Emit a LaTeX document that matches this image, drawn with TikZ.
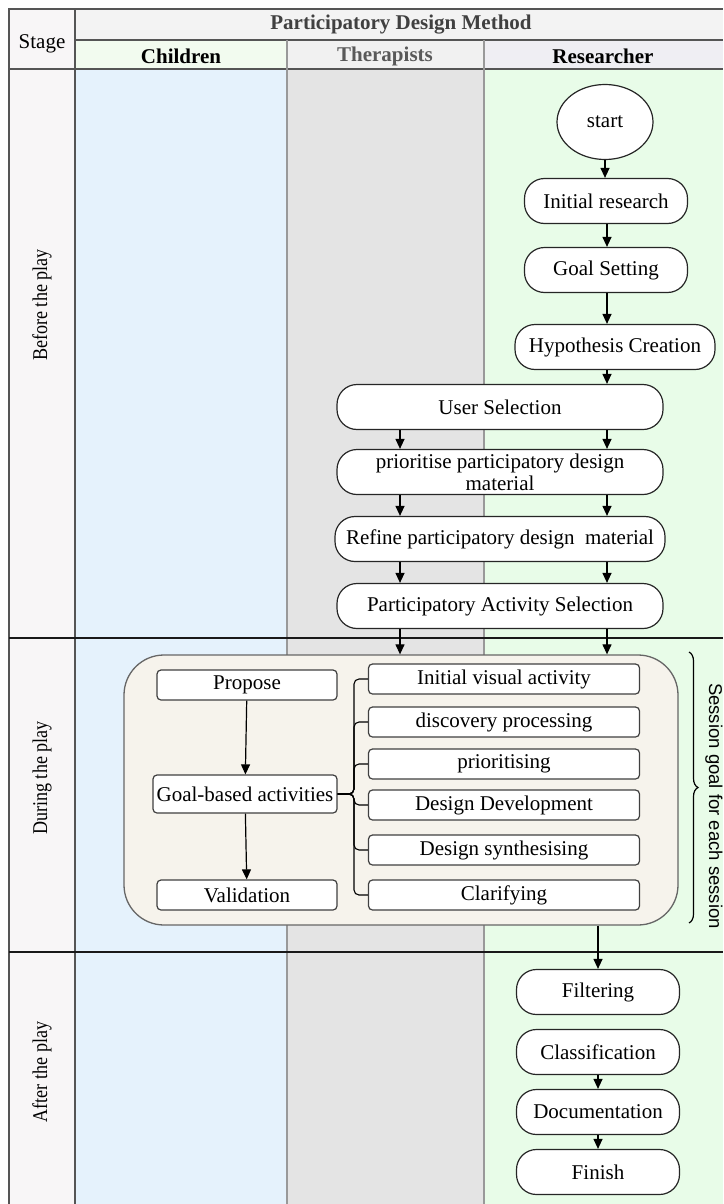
\documentclass[tikz,border=0pt]{standalone}
\usepackage{fontspec}
\setmainfont{Liberation Serif}
\newfontfamily\rowfont[FakeStretch=0.86]{Liberation Serif}
\newfontfamily\notefont{Liberation Sans}
\usetikzlibrary{arrows.meta,shapes.geometric,decorations.pathreplacing}

\definecolor{stagebg}{HTML}{F8F6F7}
\definecolor{hdrbg}{HTML}{F3F3F3}
\definecolor{childhdr}{HTML}{F2FBEF}
\definecolor{therhdr}{HTML}{F1F1F1}
\definecolor{reshdr}{HTML}{EFEEF3}
\definecolor{childbg}{HTML}{E5F2FC}
\definecolor{therbg}{HTML}{E4E4E4}
\definecolor{resbg}{HTML}{E8FCE8}
\definecolor{sessbg}{HTML}{F6F3EC}
\definecolor{gridcol}{HTML}{555555}

\tikzset{
  gridline/.style={draw=gridcol, line width=1.3pt},
  laneline/.style={draw=gray!80, line width=1.3pt},
  rowline/.style={draw=black!90, line width=1.8pt},
  txt/.style={font=\fontsize{21}{24}\selectfont},
  hdr/.style={font=\fontsize{21}{24}\selectfont\bfseries},
  term/.style={txt, rectangle, rounded corners=20pt, draw=black!85, fill=white,
    line width=1.2pt, inner xsep=2pt, inner ysep=0pt, minimum height=45, align=center},
  actbox/.style={txt, rectangle, rounded corners=4pt, draw=black!75, fill=white,
    line width=1.2pt, inner xsep=1pt, inner ysep=0pt, minimum height=30},
  flow/.style={-{Triangle[width=9pt,length=10pt]}, line width=1.2pt},
  branch/.style={line width=1.1pt, rounded corners=5pt},
}

\begin{document}
\begin{tikzpicture}[x=1pt,y=-1pt]
\useasboundingbox (0,0) rectangle (723,1204);

% Filling lane backgrounds
\fill[stagebg] (9,9) rectangle (75,1204);
\fill[hdrbg] (75,9) rectangle (723,40);
\fill[childhdr] (75,40) rectangle (287,69);
\fill[therhdr] (287,40) rectangle (484,69);
\fill[reshdr] (484,40) rectangle (723,69);
\fill[childbg] (75,69) rectangle (287,1204);
\fill[therbg] (287,69) rectangle (484,1204);
\fill[resbg] (484,69) rectangle (723,1204);

% Drawing table lines
\draw[gridline] (9,1204) -- (9,9) -- (723,9);
\draw[gridline] (75,9) -- (75,1204);
\draw[gridline] (75,40) -- (723,40);
\draw[gridline] (9,69) -- (723,69);
\draw[laneline] (287,40) -- (287,1204);
\draw[laneline] (484,40) -- (484,1204);
\draw[rowline] (9,638) -- (723,638);
\draw[rowline] (9,952) -- (723,952);

% Writing headers
\node[txt] (stage) at (42,44) {Stage};
\node[hdr, text=black!75] (method) at (401,25) {Participatory Design Method};
\node[hdr] (children) at (181,56) {Children};
\node[hdr, text=black!65] (therapists) at (385,56) {Therapists};
\node[hdr] (researcher) at (603,56) {Researcher};

% Writing stage labels
\node[rotate=90, font=\rowfont\fontsize{21}{23}\selectfont] (before) at (42,305) {Before the play};
\node[rotate=90, font=\rowfont\fontsize{21}{23}\selectfont] (during) at (42,778) {During the play};
\node[rotate=90, font=\rowfont\fontsize{21}{23}\selectfont] (after) at (42,1072) {After the play};

% Columns of the arrows
\coordinate (thx) at (400,0);
\coordinate (rsx) at (607,0);

% Before the play
\node[txt, ellipse, draw=black!85, fill=white, line width=1.2pt, inner sep=0pt,
  minimum width=96, minimum height=75] (start) at (605,122) {start};
\node[term, minimum width=163] (initres) at (606,201) {Initial research};
\node[term, minimum width=163] (goalset) at (606,270) {Goal Setting};
\node[term, minimum width=200] (hypo) at (615,347) {Hypothesis Creation};
\node[term, minimum width=326] (usersel) at (500,407) {User Selection};
\node[term, minimum width=326, font=\fontsize{21}{22}\selectfont] (prio) at (500,472) {prioritise participatory design\\material};
\node[term, minimum width=330] (refine) at (500,539) {Refine participatory design\ \ material};
\node[term, minimum width=326] (pasel) at (500,606) {Participatory Activity Selection};

\draw[flow] (start.south) -- (start.south |- initres.north);
\draw[flow] (initres.south -| rsx) -- (goalset.north -| rsx);
\draw[flow] (goalset.south -| rsx) -- (hypo.north -| rsx);
\draw[flow] (hypo.south -| rsx) -- (usersel.north -| rsx);
\draw[flow] (usersel.south -| thx) -- (prio.north -| thx);
\draw[flow] (usersel.south -| rsx) -- (prio.north -| rsx);
\draw[flow] (prio.south -| thx) -- (refine.north -| thx);
\draw[flow] (prio.south -| rsx) -- (refine.north -| rsx);
\draw[flow] (refine.south -| thx) -- (pasel.north -| thx);
\draw[flow] (refine.south -| rsx) -- (pasel.north -| rsx);

% During the play
\node[draw=black!60, line width=1.3pt, fill=sessbg, rounded corners=40pt,
  minimum width=554, minimum height=270] (session) at (401,790) {};
\draw[flow] (pasel.south -| thx) -- (session.north -| thx);
\draw[flow] (pasel.south -| rsx) -- (session.north -| rsx);

\node[actbox, minimum width=180] (propose) at (247,685) {Propose};
\node[actbox, minimum width=184, minimum height=38] (goalact) at (245,794) {Goal-based activities};
\node[actbox, minimum width=180] (valid) at (247,895) {Validation};
\draw[flow] (propose) -- (goalact);
\draw[flow] (goalact) -- (valid);

\node[actbox, minimum width=271] (visual) at (504,679) {Initial visual activity};
\node[actbox, minimum width=271] (discover) at (504,722) {discovery processing};
\node[actbox, minimum width=271] (prioact) at (504,764) {prioritising};
\node[actbox, minimum width=271] (develop) at (504,805) {Design Development};
\node[actbox, minimum width=271] (synth) at (504,850) {Design synthesising};
\node[actbox, minimum width=271] (clarify) at (504,895) {Clarifying};

\coordinate (fork) at (354,794);
\foreach \act in {visual,discover,prioact,develop,synth,clarify}
  \draw[branch] (goalact.east) -- (fork) |- (\act.west);

% Brace for the sessions
\coordinate (bracetop) at (689,652);
\coordinate (bracebot) at (689,923);
\draw[line width=1.2pt, decorate, decoration={brace, amplitude=9pt}] (bracetop) -- (bracebot);
\node[rotate=-90, font=\notefont\fontsize{18.5}{21}\selectfont] (note) at (714,806) {Session goal for each session};

% After the play
\node[term, minimum width=163] (filter) at (598,992) {Filtering};
\node[term, minimum width=163] (classify) at (598,1052) {Classification};
\node[term, minimum width=163] (document) at (598,1112) {Documentation};
\node[term, minimum width=163] (finish) at (598,1172) {Finish};
\draw[flow] (session.south -| filter) -- (filter.north);
\draw[flow] (classify) -- (document);
\draw[flow] (document) -- (finish);
\end{tikzpicture}
\end{document}
